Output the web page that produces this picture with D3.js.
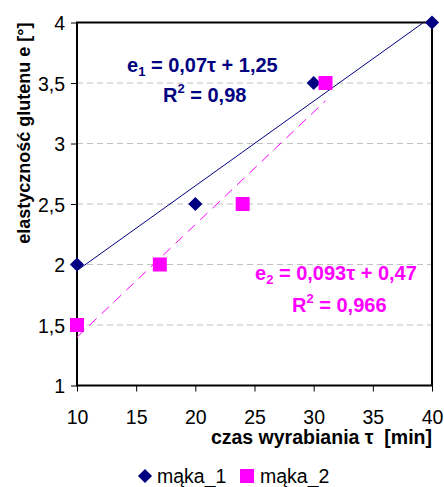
<!DOCTYPE html>
<html>
<head>
<meta charset="utf-8">
<script src="https://cdn.jsdelivr.net/npm/d3@7"></script>
<style>
  body { margin: 0; background: #fff; }
  text { font-family: "Liberation Sans", Arial, sans-serif; }
</style>
</head>
<body>
<div id="chart"></div>
<script>
// data
var maka1X = [10, 20, 30, 40];
var maka1Y = [2, 2.5, 3.5, 4];
var maka2X = [10, 17, 24, 31];
var maka2Y = [1.5, 2, 2.5, 3.5];
var trend1 = {slope: 0.07, intercept: 1.25, from: 10, to: 40};
var trend2 = {slope: 0.093, intercept: 0.47, from: 10, to: 31};
var xTicks = [10, 15, 20, 25, 30, 35, 40];
var yTicks = [1, 1.5, 2, 2.5, 3, 3.5, 4];
var gridValues = [1.5, 2, 2.5, 3, 3.5];

const colorOne = "#000080", colorTwo = "#FF00FF";

var width = 444, height = 487;
var plot = {left: 77, top: 22.5, right: 432, bottom: 385.5};

var svg = d3.select("#chart")
            .append("svg")
            .attr("width", width)
            .attr("height", height);

var x = d3.scaleLinear().domain([10, 40]).range([plot.left, plot.right]);
var y = d3.scaleLinear().domain([1, 4]).range([plot.bottom, plot.top]);

var fmt = d => String(d).replace(".", ",");

svg.append("clipPath")
   .attr("id", "plotclip")
   .append("rect")
   .attr("x", plot.left)
   .attr("y", plot.top)
   .attr("width", plot.right - plot.left)
   .attr("height", plot.bottom - plot.top);

// gridlines
svg.selectAll("line.grid")
   .data(gridValues)
   .enter()
   .append("line")
   .attr("class", "grid")
   .attr("x1", plot.left)
   .attr("x2", plot.right)
   .attr("y1", d => y(d))
   .attr("y2", d => y(d))
   .attr("stroke", "#c0c0c0")
   .attr("stroke-width", 1)
   .attr("stroke-dasharray", "6,4");

// axes
var xAxis = svg.append("g")
   .attr("transform", "translate(0," + plot.bottom + ")")
   .call(d3.axisBottom(x).tickValues(xTicks).tickSize(6).tickFormat(fmt));
var yAxis = svg.append("g")
   .attr("transform", "translate(" + plot.left + ",0)")
   .call(d3.axisLeft(y).tickValues(yTicks).tickSize(6).tickFormat(fmt));

[xAxis, yAxis].forEach(function(ax) {
    ax.select(".domain").remove();
    ax.selectAll("line").attr("stroke", "#000").attr("stroke-width", 1);
    ax.selectAll("text")
      .attr("fill", "#000")
      .style("font-size", "19.5px")
      .style("font-family", "'Liberation Sans', Arial, sans-serif");
});
xAxis.selectAll("text").attr("dy", null).attr("y", 38.5);
yAxis.selectAll("text").attr("x", -12).attr("dy", "0.36em");

// plot frame
svg.append("rect")
   .attr("x", plot.left)
   .attr("y", plot.top)
   .attr("width", plot.right - plot.left)
   .attr("height", plot.bottom - plot.top)
   .attr("fill", "none")
   .attr("stroke", "#000")
   .attr("stroke-width", 2);

// trend lines
var lines = svg.append("g").attr("clip-path", "url(#plotclip)");
lines.append("line")
   .attr("x1", x(trend1.from))
   .attr("y1", y(trend1.slope * trend1.from + trend1.intercept))
   .attr("x2", x(trend1.to))
   .attr("y2", y(trend1.slope * trend1.to + trend1.intercept))
   .attr("stroke", colorOne)
   .attr("stroke-width", 1);
lines.append("line")
   .attr("x1", x(trend2.from))
   .attr("y1", y(trend2.slope * trend2.from + trend2.intercept))
   .attr("x2", x(trend2.to))
   .attr("y2", y(trend2.slope * trend2.to + trend2.intercept))
   .attr("stroke", colorTwo)
   .attr("stroke-width", 1)
   .attr("stroke-dasharray", "10,7");

// markers
var diamond = d3.symbol().type(d3.symbolSquare).size(100);
svg.selectAll("path.m1")
   .data(d3.zip(maka1X, maka1Y))
   .enter()
   .append("path")
   .attr("class", "m1")
   .attr("d", diamond)
   .attr("transform", d => "translate(" + x(d[0]) + "," + y(d[1]) + ") rotate(45)")
   .attr("fill", colorOne);

svg.selectAll("rect.m2")
   .data(d3.zip(maka2X, maka2Y))
   .enter()
   .append("rect")
   .attr("class", "m2")
   .attr("x", d => x(d[0]) - 7)
   .attr("y", d => y(d[1]) - 7)
   .attr("width", 14)
   .attr("height", 14)
   .attr("fill", colorTwo);

// equations
function equation(xPos, yPos, color, sub, rest) {
    var t = svg.append("text")
       .attr("x", xPos)
       .attr("y", yPos)
       .attr("fill", color)
       .style("font-size", "20px")
       .style("font-weight", "bold")
       .style("white-space", "pre");
    t.append("tspan").text("e");
    t.append("tspan").attr("dy", 4).style("font-size", "13px").text(sub);
    t.append("tspan").attr("dy", -4).text(rest);
}
function rsq(xPos, yPos, color, val) {
    var t = svg.append("text")
       .attr("x", xPos)
       .attr("y", yPos)
       .attr("fill", color)
       .style("font-size", "20px")
       .style("font-weight", "bold")
       .style("white-space", "pre");
    t.append("tspan").text("R");
    t.append("tspan").attr("dy", -9).style("font-size", "13px").text("2");
    t.append("tspan").attr("dy", 9).text(" = " + val);
}
equation(127, 72, colorOne, "1", " = 0,07\u03c4 + 1,25");
rsq(163, 102, colorOne, "0,98");
equation(255, 280, colorTwo, "2", " = 0,093\u03c4 + 0,47");
rsq(292, 312, colorTwo, "0,966");

// axis titles
svg.append("text")
   .attr("x", plot.right)
   .attr("y", 444)
   .attr("text-anchor", "end")
   .style("font-size", "19.5px")
   .style("font-weight", "bold")
   .style("white-space", "pre")
   .text("czas wyrabiania \u03c4  [min]");

svg.append("text")
   .attr("transform", "translate(30," + plot.top + ") rotate(-90)")
   .attr("text-anchor", "end")
   .style("font-size", "18px")
   .style("font-weight", "bold")
   .text("elastyczno\u015b\u0107 glutenu e [\u00b0]");

// legend
var legend = svg.append("g");
legend.append("path")
   .attr("d", d3.symbol().type(d3.symbolSquare).size(100))
   .attr("transform", "translate(145,476) rotate(45)")
   .attr("fill", colorOne);
legend.append("text")
   .attr("x", 157)
   .attr("y", 483)
   .style("font-size", "19.5px")
   .text("m\u0105ka_1");
legend.append("rect")
   .attr("x", 240)
   .attr("y", 469)
   .attr("width", 14)
   .attr("height", 14)
   .attr("fill", colorTwo);
legend.append("text")
   .attr("x", 260)
   .attr("y", 483)
   .style("font-size", "19.5px")
   .text("m\u0105ka_2");
</script>
</body>
</html>
